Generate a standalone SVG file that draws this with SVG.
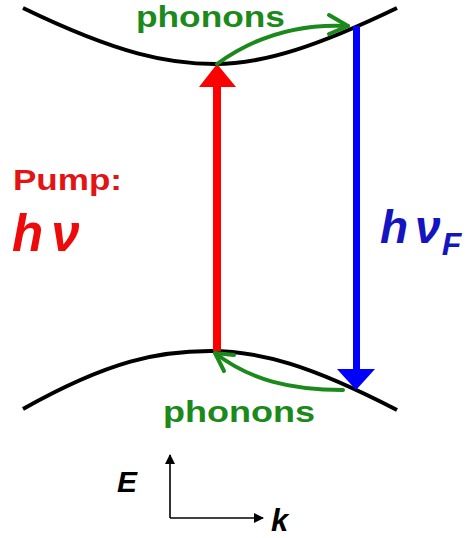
<svg xmlns="http://www.w3.org/2000/svg" width="472" height="538" viewBox="0 0 472 538">
<style>
.band{fill:none;stroke:#000;stroke-width:4}
.ph{fill:none;stroke:#1b8a1b;stroke-width:4;stroke-linecap:round;stroke-linejoin:round}
.lbl{font-family:"Liberation Sans",Arial,sans-serif;font-weight:bold}
.green{fill:#1b8a1b}
.axis{stroke:#000;stroke-width:1.6;fill:none}
</style>
<defs>
<marker id="ah" markerWidth="10" markerHeight="10" refX="9" refY="5" orient="auto" markerUnits="userSpaceOnUse">
<path d="M0,0 L10,5 L0,10 Z" fill="#000"/>
</marker>
</defs>
<g id="upper-band"><path class="band" d="M23,8 C120,55 170,64 215,64 C265,64 320,45 397,8"/></g>
<g id="lower-band"><path class="band" d="M23,409 C110,360 160,351 210,351 C260,351 310,365 397,410"/></g>
<g id="connectors">
<g id="pump-arrow">
<rect x="213" y="84" width="8" height="267" fill="#ff0000"/>
<polygon points="199,87 236,87 217,64" fill="#ff0000"/>
</g>
<g id="emission-arrow">
<rect x="353" y="26" width="7" height="345" fill="#0000ff"/>
<polygon points="337,369 375,369 356,390" fill="#0000ff"/>
</g>
<g id="phonon-top">
<path class="ph" d="M217,64 Q275,22 348,26"/>
<path class="ph" d="M329,15 L348,26 L329,34"/>
</g>
<g id="phonon-bottom">
<path class="ph" d="M343,390 C290,390 250,380 215,353"/>
<path class="ph" d="M215,353 L234,355 M215,353 L224,371"/>
</g>
<g id="axes">
<path class="axis" d="M170,518 V455" marker-end="url(#ah)"/>
<path class="axis" d="M170,518 H263" marker-end="url(#ah)"/>
</g>
</g>
<g id="label-phonons-top"><text class="lbl green" x="136" y="27" font-size="30" textLength="149" lengthAdjust="spacingAndGlyphs">phonons</text></g>
<g id="label-phonons-bottom"><text class="lbl green" x="163" y="422" font-size="30" textLength="152" lengthAdjust="spacingAndGlyphs">phonons</text></g>
<g id="label-pump">
<text class="lbl" x="13" y="190" font-size="30" fill="#e31414" textLength="109" lengthAdjust="spacingAndGlyphs">Pump:</text>
<text class="lbl" x="12" y="251" font-size="51" font-style="italic" fill="#ee0a0a">h<tspan dx="8">ν</tspan></text>
</g>
<g id="label-hvF">
<text class="lbl" x="380" y="243" font-size="46" font-style="italic" fill="#1414c0">h<tspan dx="7">ν</tspan><tspan font-size="32" dy="12" dx="1">F</tspan></text>
</g>
<g id="label-E"><text class="lbl" x="117" y="492" font-size="30" font-style="italic">E</text></g>
<g id="label-k"><text class="lbl" x="271" y="531" font-size="31" font-style="italic">k</text></g>
</svg>
